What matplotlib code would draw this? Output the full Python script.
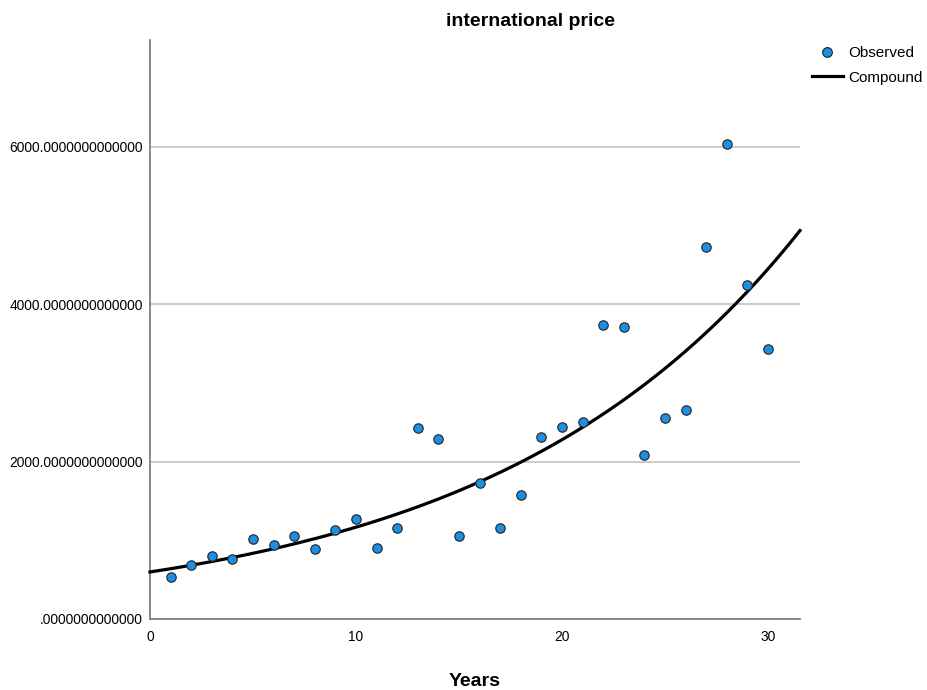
import numpy as np
import matplotlib.pyplot as plt
from matplotlib.lines import Line2D

plt.rcParams['font.family'] = ['Liberation Sans', 'DejaVu Sans']

years = [1, 2, 3, 4, 5, 6, 7, 8, 9, 10,
         11, 12, 13, 14, 15, 16, 17, 18, 19, 20,
         21, 22, 23, 24, 25, 26, 27, 28, 29, 30]
price = [531, 688, 794, 765, 1022, 942, 1052, 895, 1133, 1264,
         908, 1153, 2428, 2283, 1054, 1725, 1150, 1577, 2318, 2436,
         2500, 3740, 3715, 2081, 2555, 2652, 4722, 6039, 4240, 3435]

y_ticks = [0, 2000, 4000, 6000]
x_ticks = [0, 10, 20, 30]


def tick_label(v):
    s = "%.13f" % v
    return s[1:] if s.startswith("0.") else s


# compound model y = b0 * b1**x (linear fit on log scale)
slope, intercept = np.polyfit(years, np.log(price), 1)
xmax = 31.55
xs = np.linspace(0, xmax, 300)
ys = np.exp(intercept) * np.exp(slope * xs)

fig = plt.figure(figsize=(9.27, 6.90), dpi=100)
ax = fig.add_axes([150 / 927, 1 - 619 / 690, 650 / 927, 579 / 690])

ax.set_xlim(0, xmax)
ax.set_ylim(0, 7355)
ax.set_yticks(y_ticks)
ax.set_yticklabels([tick_label(v) for v in y_ticks])
ax.set_xticks(x_ticks)
ax.tick_params(length=0, labelsize=9.9)
ax.tick_params(axis='y', pad=5)
ax.tick_params(axis='x', pad=8)
ax.yaxis.grid(True, color='#c8c8c8', linewidth=1.3)
ax.set_axisbelow(True)

for side in ['top', 'right']:
    ax.spines[side].set_visible(False)
for side in ['left', 'bottom']:
    ax.spines[side].set_color('#808080')
    ax.spines[side].set_linewidth(1.3)

ax.plot(xs, ys, color='black', linewidth=2.3, zorder=3, clip_on=False)
ax.scatter(years, price, s=46, color='#1b8fe2', edgecolor='#222222',
           linewidth=0.8, zorder=4, clip_on=False)

ax.set_xlabel("Years", fontsize=14, fontweight='bold', labelpad=21)
fig.text(530 / 927, 1 - 21 / 690, "international price", ha='center',
         va='center', fontsize=14, fontweight='bold')

handles = [
    Line2D([], [], linestyle='none', marker='o', markersize=7,
           markerfacecolor='#1b8fe2', markeredgecolor='#222222',
           markeredgewidth=0.8, label='Observed'),
    Line2D([], [], color='black', linewidth=2.3, label='Compound'),
]
fig.legend(handles=handles, loc='upper left',
           bbox_to_anchor=(812 / 927, 1 - 46 / 690), frameon=False,
           fontsize=11, handlelength=2.0, handletextpad=0.4,
           labelspacing=0.7, borderaxespad=0, borderpad=0)

fig.savefig("out.png", dpi=100)
